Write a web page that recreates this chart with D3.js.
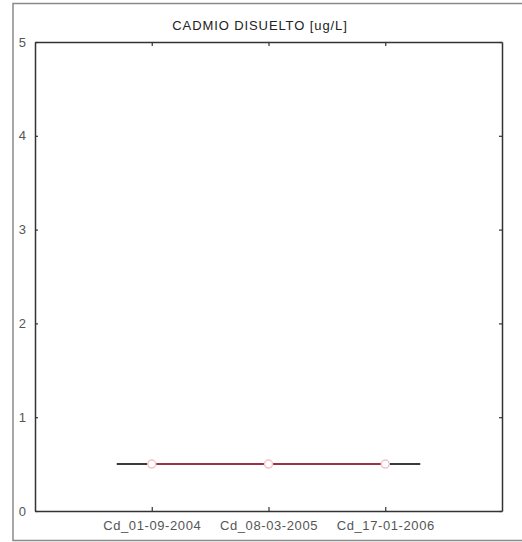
<!DOCTYPE html>
<html>
<head>
<meta charset="utf-8">
<script src="https://cdn.jsdelivr.net/npm/d3@7"></script>
<style>
  html, body { margin: 0; padding: 0; background: #fff; }
  svg { display: block; }
</style>
</head>
<body>
<script>
// Dissolved cadmium samples (ug/L)
const categories = ["Cd_01-09-2004", "Cd_08-03-2005", "Cd_17-01-2006"];
const values = [0.5, 0.5, 0.5];
// Reference limit drawn as a horizontal line across the samples
const limitValue = 0.5;
const limitPad = 0.3;
const yTicks = [0, 1, 2, 3, 4, 5];
const title = "CADMIO DISUELTO [ug/L]";

const W = 522, H = 542;
const plot = { left: 35, right: 502, top: 42, bottom: 511 };

const svg = d3.select("body").append("svg")
  .attr("width", W).attr("height", H);

// Outer frame (left, top, bottom edges)
const frame = svg.append("g").attr("stroke", "#8a8a8a").attr("stroke-width", 1.5).attr("fill", "none");
frame.append("path").attr("d", `M${W},3.5 H13 V540.5 H${W}`);

const x = d3.scaleLinear().domain([0, categories.length + 1]).range([plot.left, plot.right]);
const y = d3.scaleLinear().domain([0, 5]).range([plot.bottom, plot.top]);
const pos = categories.map((c, i) => i + 1);

// Title
svg.append("text")
  .attr("x", 260).attr("y", 30)
  .attr("text-anchor", "middle")
  .attr("font-family", "Liberation Sans, Arial, sans-serif")
  .attr("font-size", 13)
  .attr("letter-spacing", 0.9)
  .attr("fill", "#222")
  .text(title);

// Axes with inward ticks on all four sides
const axisStyle = g => {
  g.selectAll("path.domain").attr("stroke", "#333").attr("stroke-width", 1.5);
  g.selectAll(".tick line").attr("stroke", "#333").attr("stroke-width", 1.2);
  g.selectAll(".tick text")
    .attr("font-family", "Liberation Sans, Arial, sans-serif")
    .attr("font-size", 13)
    .attr("fill", "#555");
};

const xBottom = d3.axisBottom(x).tickValues(pos)
  .tickFormat((d, i) => categories[i]).tickSizeInner(-4).tickSizeOuter(0).tickPadding(10);
svg.append("g").attr("transform", `translate(0,${plot.bottom})`).call(xBottom).call(axisStyle)
  .selectAll(".tick text").attr("letter-spacing", 0.6);

const xTop = d3.axisTop(x).tickValues(pos).tickFormat("").tickSizeInner(-4).tickSizeOuter(0);
svg.append("g").attr("transform", `translate(0,${plot.top})`).call(xTop).call(axisStyle);

const yLeft = d3.axisLeft(y).tickValues(yTicks).tickFormat(d3.format("d"))
  .tickSizeInner(-3).tickSizeOuter(0).tickPadding(9);
svg.append("g").attr("transform", `translate(${plot.left},0)`).call(yLeft).call(axisStyle);

const yRight = d3.axisRight(y).tickValues(yTicks).tickFormat("").tickSizeInner(-3).tickSizeOuter(0);
svg.append("g").attr("transform", `translate(${plot.right},0)`).call(yRight).call(axisStyle);

// Limit line
svg.append("line")
  .attr("x1", x(pos[0] - limitPad)).attr("x2", x(pos[pos.length - 1] + limitPad))
  .attr("y1", y(limitValue)).attr("y2", y(limitValue))
  .attr("stroke", "#3a3a3a").attr("stroke-width", 2);

// Sample series
const line = d3.line().x((d, i) => x(pos[i])).y(d => y(d));
svg.append("path").datum(values)
  .attr("d", line)
  .attr("fill", "none")
  .attr("stroke", "#9a3346")
  .attr("stroke-width", 2);

svg.append("g").selectAll("circle").data(values).join("circle")
  .attr("cx", (d, i) => x(pos[i])).attr("cy", d => y(d))
  .attr("r", 4)
  .attr("fill", "#fff")
  .attr("stroke", "#f2c4cc")
  .attr("stroke-width", 1.5);
</script>
</body>
</html>
